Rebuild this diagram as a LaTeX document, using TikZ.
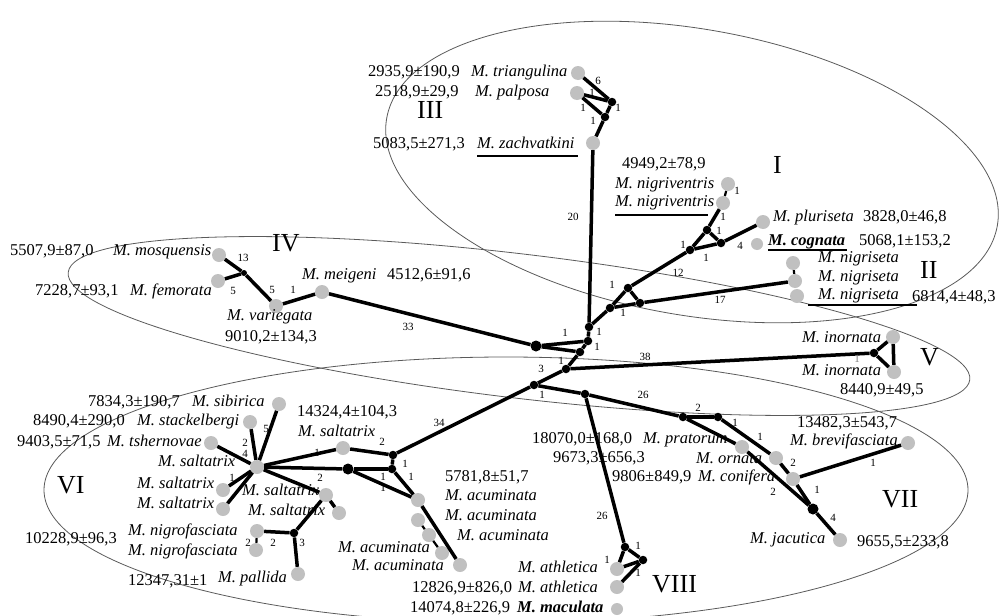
\documentclass[tikz,border=0pt]{standalone}
\usepackage{fontspec}
\setmainfont{Liberation Serif}
\definecolor{hapgray}{RGB}{192,192,192}
\definecolor{ellgray}{RGB}{90,90,90}
\begin{document}
\begin{tikzpicture}[x=1pt,y=-1pt,
  hap/.style={circle,fill=hapgray,draw=none,minimum size=14pt,inner sep=0pt},
  haps/.style={hap,minimum size=12pt},
  jn/.style={circle,fill=black,minimum size=8.5pt,inner sep=0pt},
  jnb/.style={jn,minimum size=11pt},
  lnk/.style={line width=3.5pt},
  thinlnk/.style={line width=2.2pt},
  lab/.style={font=\fontsize{11}{11}\selectfont,inner sep=0pt,text height=0.66em,text depth=0pt},
  nm/.style={font=\fontsize{16.5}{18}\selectfont\itshape,anchor=west,inner sep=0pt,text height=0.66em,text depth=0pt},
  nmb/.style={nm,font=\fontsize{16.5}{18}\selectfont\itshape\bfseries},
  num/.style={font=\fontsize{16.5}{18}\selectfont,anchor=west,inner sep=0pt,text height=0.66em,text depth=0pt},
  grp/.style={font=\fontsize{26}{28}\selectfont,anchor=west,inner sep=0pt,text height=0.66em,text depth=0pt},
  ell/.style={draw=ellgray,line width=0.8pt},
  uln/.style={line width=2.2pt}]
\useasboundingbox (0,0) rectangle (999,616);

% group outlines
\draw[ell,rotate around={-10:(692,172)}] (692,172) ellipse [x radius=310pt, y radius=143pt];
\draw[ell,rotate around={-6.8:(519,326)}] (519,326) ellipse [x radius=454pt, y radius=72pt];
\draw[ell] (506,490) ellipse [x radius=462pt, y radius=133pt];

% haplotypes
\node[hap] (tri) at (578,73) {};
\node[hap] (pal) at (577,93) {};
\node[hap] (zac) at (593,143) {};
\node[hap] (ngv1) at (728,184) {};
\node[hap] (ngv2) at (723,203) {};
\node[hap] (plu) at (763,222) {};
\node[haps] (cog) at (757,244) {};
\node[hap] (ngs1) at (793,263) {};
\node[hap] (ngs2) at (795,281) {};
\node[hap] (ngs3) at (797,296) {};
\node[hap] (mos) at (219,255) {};
\node[hap] (fem) at (218,281) {};
\node[hap] (var) at (276,306) {};
\node[hap] (mei) at (322,292) {};
\node[hap] (ino1) at (893,337) {};
\node[hap] (ino2) at (894,372) {};
\node[hap] (pra) at (742,447) {};
\node[hap] (orn) at (776,458) {};
\node[hap] (con) at (793,479) {};
\node[hap] (bre) at (908,443) {};
\node[hap] (jac) at (840,540) {};
\node[hap] (ath1) at (617,569) {};
\node[hap] (ath2) at (617,587) {};
\node[haps] (mac) at (617,609) {};
\node[hap] (sib) at (279,404) {};
\node[hap] (sta) at (250,422) {};
\node[hap] (tsh) at (211,443) {};
\node[hap] (sal0) at (257,467) {};
\node[hap] (sal1) at (223,490) {};
\node[hap] (sal2) at (223,509) {};
\node[hap] (sal3) at (343,448) {};
\node[hap] (sal4) at (326,495) {};
\node[hap] (sal5) at (339,513) {};
\node[hap] (nf1) at (257,531) {};
\node[hap] (nf2) at (256,550) {};
\node[hap] (pall) at (298,574) {};
\node[hap] (ac1) at (418,500) {};
\node[hap] (ac2) at (418,520) {};
\node[hap] (ac3) at (429,535) {};
\node[hap] (ac4) at (442,553) {};
\node[hap] (ac5) at (460,565) {};

% median vectors
\node[jn] (jA) at (612,102) {};
\node[jn] (jB) at (605,117) {};
\node[jn] (jC) at (589,327) {};
\node[jn] (jD) at (588,341) {};
\node[jn] (jE) at (580,352) {};
\node[jnb] (jF) at (536,346) {};
\node[jn] (jG) at (566,369) {};
\node[jn] (jH) at (534,385) {};
\node[jn] (jI) at (585,394) {};
\node[jn] (jJ) at (610,308) {};
\node[jn] (jK) at (628,288) {};
\node[jn] (jL) at (640,303) {};
\node[jn] (jM) at (707,230) {};
\node[jn] (jN) at (721,243) {};
\node[jn] (jO) at (690,250) {};
\node[jn,minimum size=6pt] (jQ) at (244,273) {};
\node[jn] (jR) at (874,353) {};
\node[jn] (jS) at (683,417) {};
\node[jn] (jT) at (718,417) {};
\node[jn] (jU) at (625,547) {};
\node[jn] (jV) at (643,560) {};
\node[jnb] (jW) at (813,509) {};
\node[jn] (jX1) at (393,455) {};
\node[jn] (jX2) at (392,469) {};
\node[jnb] (jX3) at (348,469) {};
\node[jn] (jY) at (294,533) {};

% links
\draw[lnk] (tri) -- (jA);
\draw[lnk] (pal) -- (jA);
\draw[lnk] (pal) -- (jB);
\draw[lnk] (jA) -- (jB);
\draw[lnk] (jB) -- (zac);
\draw[lnk] (zac) -- (jC);
\draw[lnk] (jC) -- (jD);
\draw[lnk] (jD) -- (jE);
\draw[lnk] (jF) -- (jD);
\draw[lnk] (jF) -- (jE);
\draw[lnk] (jE) -- (jG);
\draw[lnk] (jG) -- (jH);
\draw[lnk] (jC) -- (jJ);
\draw[lnk] (jJ) -- (jK);
\draw[lnk] (jK) -- (jL);
\draw[lnk] (jJ) -- (jL);
\draw[lnk] (jK) -- (jO);
\draw[lnk] (jO) -- (jM);
\draw[lnk] (jM) -- (jN);
\draw[lnk] (jO) -- (jN);
\draw[lnk] (jM) -- (ngv2);
\draw[thinlnk] (ngv2) -- (ngv1);
\draw[lnk] (jN) -- (plu);
\draw[lnk] (jL) -- (ngs2);
\draw[thinlnk] (ngs1) -- (ngs2);
\draw[lnk] (mos) -- (jQ);
\draw[lnk] (fem) -- (jQ);
\draw[lnk] (jQ) -- (var);
\draw[lnk] (var) -- (mei);
\draw[lnk] (mei) -- (jF);
\draw[lnk] (jG) -- (jR);
\draw[lnk] (jR) -- (ino1);
\draw[lnk] (jR) -- (ino2);
\draw[lnk] (ino1) -- (ino2);
\draw[lnk] (jH) -- (jI);
\draw[lnk] (jI) -- (jS);
\draw[lnk] (jS) -- (jT);
\draw[lnk] (jT) -- (orn);
\draw[lnk] (jS) -- (pra);
\draw[lnk] (pra) -- (jW);
\draw[lnk] (orn) -- (con);
\draw[lnk] (con) -- (bre);
\draw[lnk] (con) -- (jW);
\draw[lnk] (jW) -- (jac);
\draw[lnk] (jI) -- (jU);
\draw[lnk] (jU) -- (jV);
\draw[lnk] (jU) -- (ath1);
\draw[lnk] (jV) -- (ath1);
\draw[lnk] (jV) -- (ath2);
\draw[lnk] (jH) -- (jX1);
\draw[lnk] (sal3) -- (jX1);
\draw[lnk] (jX1) -- (jX2);
\draw[lnk] (jX2) -- (ac1);
\draw[lnk] (jX3) -- (jX2);
\draw[lnk] (jX3) -- (ac1);
\draw[lnk] (sal0) -- (sal3);
\draw[lnk] (sal0) -- (jX3);
\draw[lnk] (sal0) -- (sal4);
\draw[lnk] (sal4) -- (sal5);
\draw[lnk] (sal4) -- (jY);
\draw[lnk] (sal0) -- (sib);
\draw[lnk] (sal0) -- (sta);
\draw[lnk] (sal0) -- (tsh);
\draw[lnk] (sal0) -- (sal1);
\draw[lnk] (sal0) -- (sal2);
\draw[lnk] (nf1) -- (jY);
\draw[thinlnk] (nf1) -- (nf2);
\draw[lnk] (jY) -- (pall);
\draw[lnk] (ac1) -- (ac5);
\draw[thinlnk] (ac2) -- (ac3);
\draw[thinlnk] (ac3) -- (ac4);

% mutation counts
\node[lab] (m01) at (598,81) {6};
\node[lab] (m02) at (592,93) {1};
\node[lab] (m03) at (583,108) {1};
\node[lab] (m04) at (618,108) {1};
\node[lab] (m05) at (593,121) {1};
\node[lab] (m06) at (573,217) {20};
\node[lab] (m07) at (599,332) {1};
\node[lab] (m08) at (597,347) {1};
\node[lab] (m09) at (565,333) {1};
\node[lab] (m10) at (561,361) {1};
\node[lab] (m11) at (541,369) {3};
\node[lab] (m12) at (612,285) {1};
\node[lab] (m13) at (623,313) {1};
\node[lab] (m14) at (678,273) {12};
\node[lab] (m15) at (683,245) {1};
\node[lab] (m16) at (706,258) {1};
\node[lab] (m17) at (719,231) {1};
\node[lab] (m18) at (723,217) {1};
\node[lab] (m19) at (737,191) {1};
\node[lab] (m20) at (740,246) {4};
\node[lab] (m21) at (720,300) {17};
\node[lab] (m22) at (243,258) {13};
\node[lab] (m23) at (233,291) {5};
\node[lab] (m24) at (272,290) {5};
\node[lab] (m25) at (293,290) {1};
\node[lab] (m26) at (408,327) {33};
\node[lab] (m27) at (645,357) {38};
\node[lab,text=gray] (m28) at (857,359) {1};
\node[lab] (m29) at (542,395) {1};
\node[lab] (m30) at (643,395) {26};
\node[lab] (m31) at (698,408) {2};
\node[lab] (m32) at (735,423) {1};
\node[lab] (m33) at (760,437) {1};
\node[lab] (m34) at (793,463) {2};
\node[lab] (m35) at (773,492) {2};
\node[lab] (m36) at (873,463) {1};
\node[lab] (m37) at (817,490) {1};
\node[lab] (m38) at (833,518) {4};
\node[lab] (m39) at (602,516) {26};
\node[lab] (m40) at (638,546) {1};
\node[lab] (m41) at (607,560) {1};
\node[lab] (m42) at (638,573) {1};
\node[lab] (m43) at (439,423) {34};
\node[lab] (m44) at (382,442) {2};
\node[lab] (m45) at (405,464) {1};
\node[lab] (m46) at (411,477) {1};
\node[lab] (m47) at (383,477) {1};
\node[lab] (m48) at (383,488) {1};
\node[lab] (m49) at (317,453) {1};
\node[lab] (m50) at (320,478) {2};
\node[lab] (m51) at (266,429) {5};
\node[lab] (m52) at (245,443) {2};
\node[lab] (m53) at (245,454) {4};
\node[lab] (m54) at (232,478) {1};
\node[lab] (m55) at (248,543) {2};
\node[lab] (m56) at (273,543) {2};
\node[lab] (m57) at (302,543) {3};

% group numerals
\node[grp] (gI) at (773,170) {I};
\node[grp] (gII) at (920,275) {II};
\node[grp] (gIII) at (417,115) {III};
\node[grp] (gIV) at (272,248) {IV};
\node[grp] (gV) at (920,362) {V};
\node[grp] (gVI) at (57,490) {VI};
\node[grp] (gVII) at (882,504) {VII};
\node[grp] (gVIII) at (652,589) {VIII};

% III
\node[num] (t01) at (368,73) {2935,9±190,9};
\node[nm] (t02) at (471,73) {M. triangulina};
\node[num] (t03) at (375,93) {2518,9±29,9};
\node[nm] (t04) at (475,93) {M. palposa};
\node[num] (t05) at (373,145) {5083,5±271,3};
\node[nm] (t06) at (477,145) {M. zachvatkini};
\draw[uln] (477,156) -- (578,156);
% I, II
\node[num] (t07) at (622,165) {4949,2±78,9};
\node[nm] (t08) at (615,185) {M. nigriventris};
\node[nm] (t09) at (615,203) {M. nigriventris};
\draw[uln] (615,215) -- (708,215);
\node[nm] (t10) at (773,218) {M. pluriseta};
\node[num] (t11) at (863,218) {3828,0±46,8};
\node[nmb] (t12) at (768,242) {M. cognata};
\draw[uln] (768,250) -- (847,250);
\node[num] (t13) at (859,242) {5068,1±153,2};
\node[nm] (t14) at (818,259) {M. nigriseta};
\node[nm] (t15) at (818,278) {M. nigriseta};
\node[nm] (t16) at (818,296) {M. nigriseta};
\draw[uln] (808,305) -- (917,305);
\node[num] (t17) at (912,298) {6814,4±48,3};
% IV
\node[num] (t18) at (10,252) {5507,9±87,0};
\node[nm] (t19) at (113,252) {M. mosquensis};
\node[num] (t20) at (35,292) {7228,7±93,1};
\node[nm] (t21) at (130,292) {M. femorata};
\node[nm] (t22) at (227,317) {M. variegata};
\node[num] (t23) at (225,338) {9010,2±134,3};
\node[nm] (t24) at (302,276) {M. meigeni};
\node[num] (t25) at (387,276) {4512,6±91,6};
% V
\node[nm] (t26) at (802,339) {M. inornata};
\node[nm] (t27) at (802,372) {M. inornata};
\node[num] (t28) at (840,391) {8440,9±49,5};
% VII
\node[num] (t29) at (797,424) {13482,3±543,7};
\node[nm] (t30) at (790,442) {M. brevifasciata};
\node[nm] (t31) at (750,540) {M. jacutica};
\node[num] (t32) at (857,543) {9655,5±233,8};
\node[num] (t33) at (532,440) {18070,0±168,0};
\node[nm] (t34) at (643,440) {M. pratorum};
\node[num] (t35) at (553,459) {9673,3±656,3};
\node[nm] (t36) at (696,460) {M. ornata};
\node[num] (t37) at (612,478) {9806±849,9};
\node[nm] (t38) at (698,478) {M. conifera};
% VIII
\node[nm] (t39) at (518,569) {M. athletica};
\node[nm] (t40) at (518,589) {M. athletica};
\node[nmb] (t41) at (517,609) {M. maculata};
\node[num] (t42) at (412,589) {12826,9±826,0};
\node[num] (t43) at (410,609) {14074,8±226,9};
% VI
\node[num] (t44) at (88,403) {7834,3±190,7};
\node[nm] (t45) at (192,403) {M. sibirica};
\node[num] (t46) at (33,422) {8490,4±290,0};
\node[nm] (t47) at (137,422) {M. stackelbergi};
\node[num] (t48) at (17,443) {9403,5±71,5};
\node[nm] (t49) at (107,443) {M. tshernovae};
\node[nm] (t50) at (158,463) {M. saltatrix};
\node[nm] (t51) at (137,485) {M. saltatrix};
\node[nm] (t52) at (137,505) {M. saltatrix};
\node[nm] (t53) at (242,492) {M. saltatrix};
\node[nm] (t54) at (248,512) {M. saltatrix};
\node[num] (t55) at (297,413) {14324,4±104,3};
\node[nm] (t56) at (298,433) {M. saltatrix};
\node[nm] (t57) at (128,532) {M. nigrofasciata};
\node[nm] (t58) at (128,552) {M. nigrofasciata};
\node[num] (t59) at (25,540) {10228,9±96,3};
\node[nm] (t60) at (218,579) {M. pallida};
\node[num] (t61) at (128,582) {12347,31±1};
\node[num] (t62) at (445,478) {5781,8±51,7};
\node[nm] (t63) at (445,497) {M. acuminata};
\node[nm] (t64) at (445,517) {M. acuminata};
\node[nm] (t65) at (457,537) {M. acuminata};
\node[nm] (t66) at (338,549) {M. acuminata};
\node[nm] (t67) at (352,567) {M. acuminata};
\end{tikzpicture}
\end{document}
